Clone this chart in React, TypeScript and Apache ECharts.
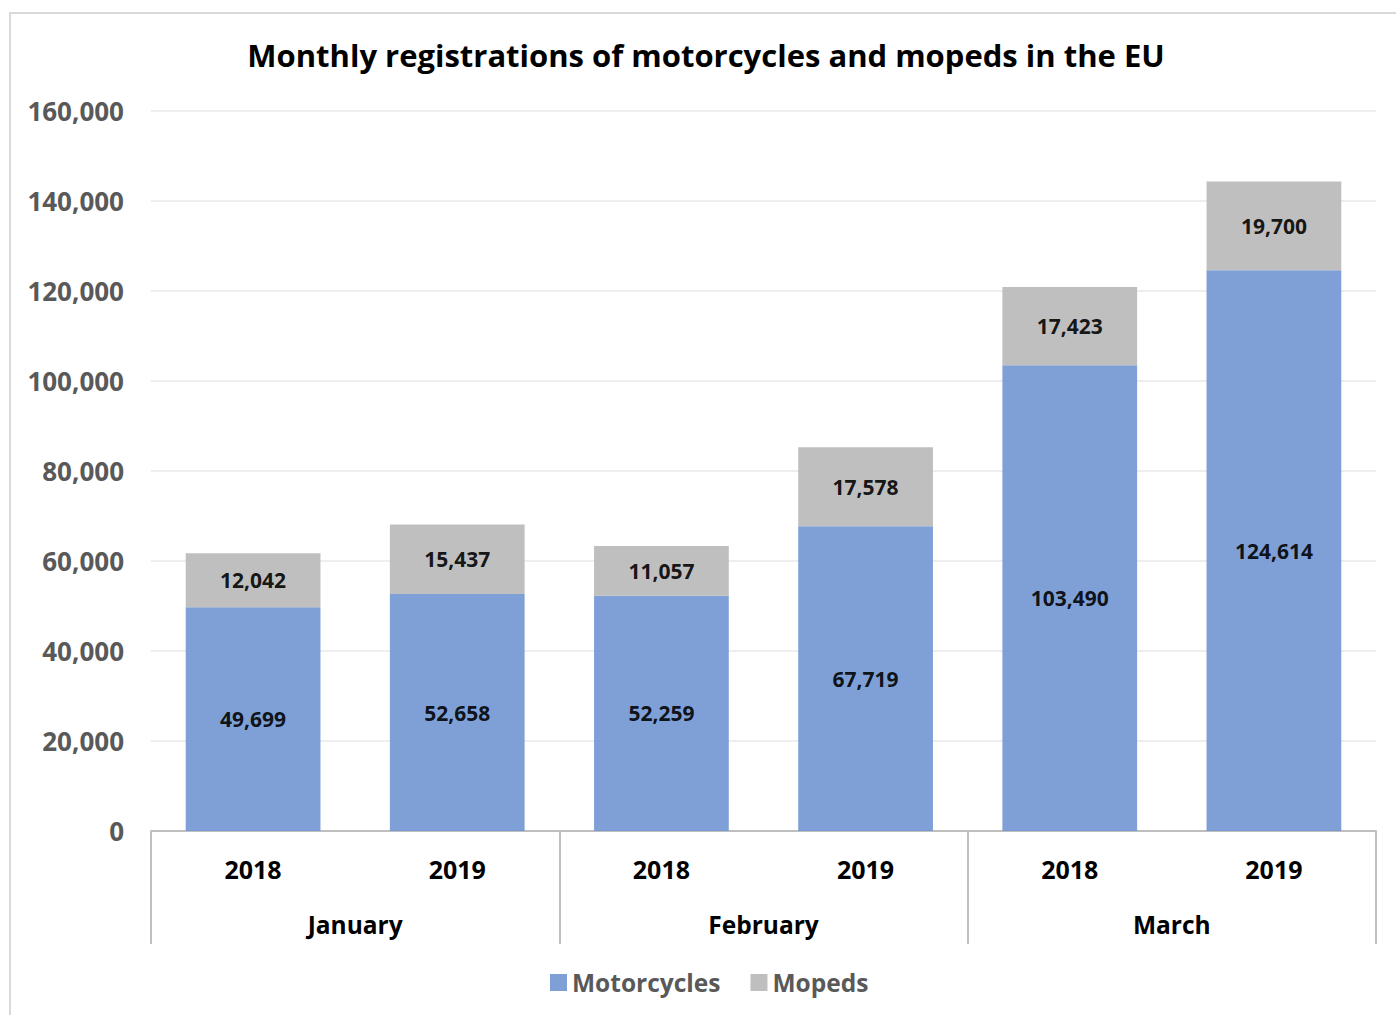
import React, { useEffect, useRef } from "react";
import * as echarts from "echarts";

const years = ["2018", "2019", "2018", "2019", "2018", "2019"];
const months = ["January", "February", "March"];
const motorcycles = [49699, 52658, 52259, 67719, 103490, 124614];
const mopeds = [12042, 15437, 11057, 17578, 17423, 19700];
const yTicks = [0, 20000, 40000, 60000, 80000, 100000, 120000, 140000, 160000];

const FONT = "'Open Sans', Lato, sans-serif";
const fmt = (v: number) => v.toLocaleString("en-US");

export default function App() {
  const ref = useRef<HTMLDivElement>(null);
  useEffect(() => {
    if (!ref.current) return;
    const chart = echarts.init(ref.current, undefined, { renderer: "svg" });
    chart.setOption({
      animation: false,
      backgroundColor: "#fff",
      textStyle: { fontFamily: FONT },
      title: {
        text: "Monthly registrations of motorcycles and mopeds in the EU",
        left: 701,
        textAlign: "center",
        top: 34,
        textStyle: { fontFamily: FONT, fontSize: 31, fontWeight: "bold", color: "#000" },
      },
      legend: {
        data: ["Motorcycles", "Mopeds"],
        left: 545,
        top: 965,
        icon: "rect",
        itemWidth: 17,
        itemHeight: 17,
        itemGap: 30,
        textStyle: { fontFamily: FONT, fontSize: 24.5, fontWeight: "bold", color: "#595959" },
      },
      graphic: [
        {
          type: "rect",
          shape: { x: 10, y: 13, width: 1400, height: 1010 },
          style: { fill: "none", stroke: "#D9D9D9", lineWidth: 2 },
          silent: true,
        },
      ],
      grid: { left: 151, right: 20, top: 111, bottom: 184, containLabel: false },
      xAxis: [
        {
          type: "category",
          data: years,
          axisLine: { show: true, lineStyle: { color: "#BFBFBF", width: 2 } },
          axisTick: { show: false },
          axisLabel: { margin: 25, fontFamily: FONT, fontSize: 25, fontWeight: "bold", color: "#000" },
        },
        {
          type: "category",
          data: months,
          position: "bottom",
          axisLine: { show: false },
          axisTick: { show: true, length: 113, lineStyle: { color: "#BFBFBF", width: 2 } },
          axisLabel: { margin: 81, fontFamily: FONT, fontSize: 24.5, fontWeight: "bold", color: "#000" },
        },
      ],
      yAxis: {
        type: "value",
        min: yTicks[0],
        max: yTicks[yTicks.length - 1],
        interval: 20000,
        axisLine: { show: false },
        axisTick: { show: false },
        axisLabel: {
          margin: 27,
          fontFamily: FONT,
          fontSize: 26,
          fontWeight: "bold",
          color: "#595959",
          formatter: (v: number) => fmt(v),
        },
        splitLine: { lineStyle: { color: "#E8E8E8", width: 1.5 } },
      },
      series: [
        {
          name: "Motorcycles",
          type: "bar",
          stack: "total",
          xAxisIndex: 0,
          barWidth: "66%",
          data: motorcycles,
          itemStyle: { color: "#7196D3", opacity: 0.9 },
          label: {
            show: true,
            position: "inside",
            formatter: (p: any) => fmt(p.value),
            fontFamily: FONT,
            fontSize: 21,
            fontWeight: "bold",
            color: "#000",
          },
        },
        {
          name: "Mopeds",
          type: "bar",
          stack: "total",
          xAxisIndex: 0,
          barWidth: "66%",
          data: mopeds,
          itemStyle: { color: "#B8B8B8", opacity: 0.9 },
          label: {
            show: true,
            position: "inside",
            formatter: (p: any) => fmt(p.value),
            fontFamily: FONT,
            fontSize: 21,
            fontWeight: "bold",
            color: "#000",
          },
        },
      ],
    });
    return () => chart.dispose();
  }, []);
  return (
    <div
      ref={ref}
      style={{ position: "fixed", left: 0, top: 0, width: 1396, height: 1015, background: "#fff" }}
    />
  );
}
